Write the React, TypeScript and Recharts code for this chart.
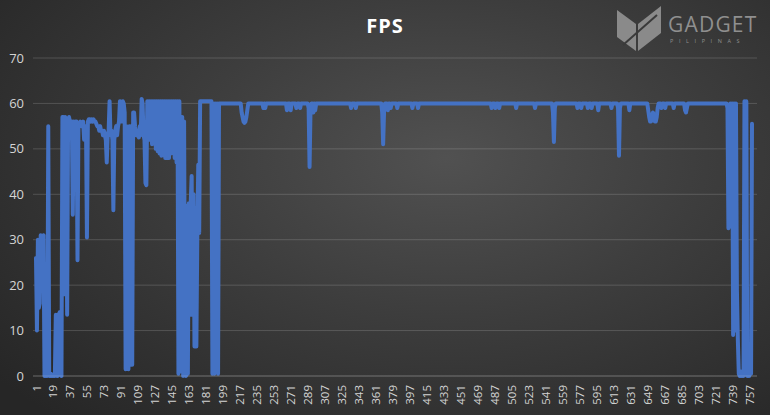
import React from "react";
import { LineChart, Line, XAxis, YAxis, CartesianGrid } from "recharts";

// FPS per frame (frames 1..760), 20 values per row
const fps: number[] = [
  26,10,30,15,16,31,19,30,31,0,0.5,0,0,55,0,0,0.5,0,0,0,
  0,13.5,0,0,13.5,14,0.5,0,57,57,18,57,56,13.5,56,57,56,56,56,35.5,
  56,55,56,56,25.5,55,55,56,55,55,56,52,55,55,30.5,56,56.5,56.5,56,56.5,
  56,56.5,56,56,55.5,55,55,54,55,54,54,53,54,53,52,47,53,54,60.5,53,
  54,52,36.5,52,54,55,53,55,56,60.5,60,56,60.5,60,58,1.5,55,53,1.5,55,
  55,2.5,2.5,58,58,55,53,54,53,52.5,55,53,61,60,53,52,42.5,42,60.5,52,
  60.5,52,60.5,51,60.5,52,60.5,50,60.5,49.5,60.5,49,60.5,48.5,60.5,50,60.5,48,60.5,48,
  60.5,48,60.5,49,60.5,50,60.5,48,60.5,47,60.5,0.5,60.5,1,57,57,0,56,0.5,0,
  37.5,0.5,38,13.5,38,44,13.5,40,6.5,37,6.5,31,46.5,31.5,60.5,60.5,60.5,60.5,60.5,60.5,
  60.5,60.5,60.5,60.5,60.5,60.5,60.5,0.5,60,0.5,60,1,60,0.5,60,60,60,60,60,60,
  60,60,60,60,60,60,60,60,60,60,60,60,60,60,60,60,60,60,58,57,
  56,55.7,56,57,58.5,60,60,60,60,60,60,60,60,60,60,60,60,60,60,60,
  60,59,60,59,60,60,60,60,60,60,60,60,60,60,60,60,60,60,60,60,
  60,60,60,60,60,60,58.5,60,60,60,58.5,60,60,60,60,60,59,60,60,60,
  59,60,60,60,60,60,60,60,60,59,46,58.5,60,60,58,60,58.5,60,60,60,
  60,60,60,60,60,60,60,60,60,60,60,60,60,60,60,60,60,60,60,60,
  60,60,60,60,60,60,60,60,60,60,60,60,60,60,59,60,60,60,60,59,
  60,60,60,60,60,60,60,60,60,60,60,60,60,60,60,60,60,60,60,60,
  60,60,60,60,60,60,60,58,51,58.5,60,60,60,58.5,60,60,59,60,60,60,
  60,60,60,59,60,60,60,60,60,60,60,60,60,60,60,60,60,60,60,59,
  60,60,60,60,60,59,60,60,60,60,60,60,60,60,60,60,60,60,60,60,
  60,60,60,60,60,60,60,60,60,60,60,60,60,60,60,60,60,60,60,60,
  60,60,60,60,60,60,60,60,60,60,60,60,60,60,60,60,60,60,60,60,
  60,60,60,60,60,60,60,60,60,60,60,60,60,60,60,60,60,60,60,60,
  60,60,60,59,60,60,60,59,60,60,60,59,60,60,60,60,60,60,60,60,
  60,60,60,60,60,60,60,60,60,59,60,60,60,60,60,60,60,60,60,60,
  60,60,60,60,60,60,60,60,60,59,60,60,60,60,60,60,60,60,60,60,
  60,60,60,60,60,60,60,60,58,51.5,59,60,60,60,60,60,60,60,60,60,
  60,60,60,60,60,60,60,60,60,60,60,60,60,60,59,60,60,60,59,60,
  60,60,60,60,60,59,60,60,60,59,60,60,60,60,60,60,58.5,60,60,60,
  60,60,60,60,60,60,60,60,60,60,59,60,60,60,60,60,60,59,48.5,59,
  60,60,60,60,60,60,60,60,60,58.5,60,60,60,60,60,60,60,60,60,60,
  60,60,60,60,60,60,60,60,60,58.5,57,56,56,57.5,58,57.5,56,56,57,59,
  60,60,60,59,60,60,60,59,60,60,60,60,60,60,60,60,59,60,60,60,
  60,60,60,60,60,60,60,60,58.5,58,59,60,60,60,60,60,60,60,60,60,
  60,60,60,60,60,60,60,60,60,60,60,60,60,60,60,60,60,60,60,60,
  60,60,60,60,60,60,60,60,60,60,60,60,60,59,32.5,33,60,48,60,9,
  60,10,60,19,8,0.5,0,1,0,0.5,0,60.5,0.5,60.5,0,0.5,0,1,0.5,55.5,
];

const yTicks: number[] = [0, 10, 20, 30, 40, 50, 60, 70];
const title = "FPS";

const data = fps.map((v, i) => ({ frame: i + 1, fps: v }));

const FONT = "'Open Sans', 'DejaVu Sans', sans-serif";

const XTick = (props: any) => {
  const { x, y, payload } = props;
  return (
    <text
      x={x}
      y={y}
      transform={`rotate(-90 ${x} ${y})`}
      textAnchor="end"
      dominantBaseline="central"
      fill="#d4d4d4"
      fontSize={11.5}
      fontFamily={FONT}
    >
      {payload.value}
    </text>
  );
};

const Logo = () => (
  <svg
    width={160}
    height={56}
    style={{ position: "absolute", left: 612, top: 2 }}
  >
    <polygon points="5,8 24,22 24,49 5,35" fill="#8a8a8a" />
    <polygon points="26,22 49,4 49,31 26,49" fill="#8a8a8a" />
    <line x1="11" y1="43" x2="45" y2="13" stroke="#3a3a3a" strokeWidth={2} />
    <text
      x={56}
      y={30}
      fill="#8f8f8f"
      fontSize={21}
      fontFamily={FONT}
      letterSpacing={1.2}
    >
      GADGET
    </text>
    <text
      x={58}
      y={41}
      fill="#8f8f8f"
      fontSize={5.5}
      fontFamily={FONT}
      letterSpacing={5.6}
    >
      PILIPINAS
    </text>
  </svg>
);

export default function App() {
  return (
    <div
      style={{
        position: "absolute",
        left: 0,
        top: 0,
        width: 770,
        height: 415,
        overflow: "hidden",
        background:
          "radial-gradient(ellipse 75% 85% at 58% 38%, #515151 0%, #3d3d3d 45%, #262626 100%)",
      }}
    >
      <div
        style={{
          position: "absolute",
          left: 0,
          top: 12,
          width: 770,
          textAlign: "center",
          color: "#ffffff",
          fontFamily: FONT,
          fontWeight: 700,
          fontSize: 20,
          letterSpacing: 1,
        }}
      >
        {title}
      </div>
      <Logo />
      <div style={{ position: "absolute", left: 0, top: 0 }}>
        <LineChart
          width={770}
          height={415}
          data={data}
          margin={{ top: 58, right: 13, bottom: 0, left: 0 }}
        >
          <CartesianGrid
            vertical={false}
            stroke="rgba(255,255,255,0.16)"
            strokeWidth={1}
          />
          <XAxis
            dataKey="frame"
            interval={17}
            height={39}
            tick={<XTick />}
            tickLine={false}
            axisLine={{ stroke: "rgba(255,255,255,0.18)" }}
            tickSize={6}
            tickMargin={3}
            padding={{ left: 3, right: 5 }}
          />
          <YAxis
            width={33}
            domain={[0, 70]}
            ticks={yTicks}
            interval={0}
            axisLine={false}
            tickLine={false}
            tickSize={6}
            tickMargin={3}
            tick={{ fill: "#d4d4d4", fontSize: 13, fontFamily: FONT }}
          />
          <Line
            type="linear"
            dataKey="fps"
            stroke="#4472C4"
            strokeWidth={4}
            dot={false}
            activeDot={false}
            isAnimationActive={false}
            strokeLinejoin="round"
            strokeLinecap="round"
          />
        </LineChart>
      </div>
    </div>
  );
}
